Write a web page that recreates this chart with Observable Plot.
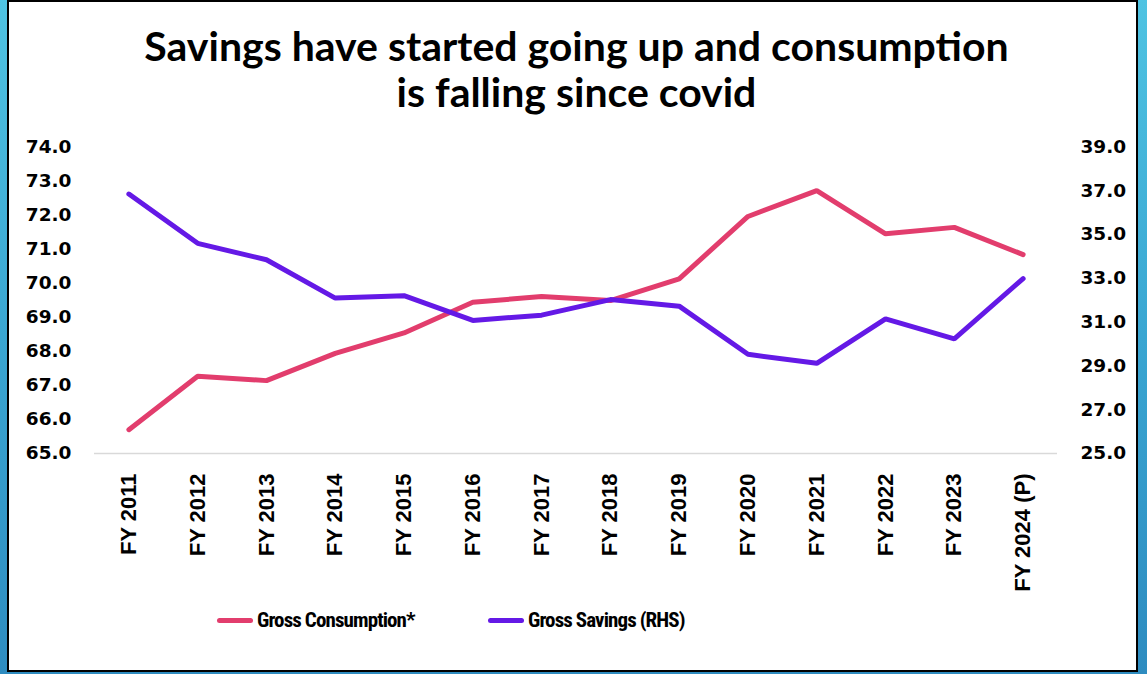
<!DOCTYPE html>
<html>
<head>
<meta charset="utf-8">
<script src="https://cdn.jsdelivr.net/npm/d3@7"></script>
<script src="https://cdn.jsdelivr.net/npm/@observablehq/plot@0.6"></script>
<style>
  html, body { margin: 0; padding: 0; }
  body {
    width: 1147px; height: 674px; overflow: hidden; position: relative;
    background: linear-gradient(180deg, #4fc3e2 0%, #3aa6d2 50%, #2e8cc0 100%);
  }
  #panel {
    position: absolute; left: 7px; top: 0px; width: 1131px; height: 672px;
    box-sizing: border-box; background: #fff; border: 2px solid #000;
  }
  #title {
    position: absolute; left: 0; top: 23px; width: 1147px; padding-left: 6px; box-sizing: border-box;
    text-align: center; font-family: Lato, "Open Sans", sans-serif; font-weight: 700;
    font-size: 41px; line-height: 46px; color: #000;
  }
  #chart { position: absolute; left: 0; top: 120px; }
  #legend {
    position: absolute; left: 0; top: 607px; width: 1147px; height: 26px;
    font-family: "Liberation Sans Narrow", "Roboto Condensed", Lato, sans-serif; font-weight: 700; font-size: 21px; letter-spacing: -0.9px; color: #000;
  }
  .item { position: absolute; top: 0; height: 26px; display: flex; align-items: center; }
  .sw { width: 36px; height: 5px; border-radius: 3px; margin-right: 4px; }
</style>
</head>
<body>
<div id="panel"></div>
<div id="title">Savings have started going up and consumption<br>is falling since covid</div>
<div id="chart"></div>
<div id="legend"></div>
<script>
const years = ["FY 2011","FY 2012","FY 2013","FY 2014","FY 2015","FY 2016","FY 2017","FY 2018","FY 2019","FY 2020","FY 2021","FY 2022","FY 2023","FY 2024 (P)"];
const consumption = [65.70, 67.27, 67.14, 67.94, 68.54, 69.44, 69.61, 69.49, 70.13, 71.96, 72.72, 71.45, 71.64, 70.84];
const savings = [36.85, 34.60, 33.85, 32.10, 32.21, 31.08, 31.32, 32.03, 31.73, 29.53, 29.12, 31.15, 30.24, 32.99];
const leftTicks = [65, 66, 67, 68, 69, 70, 71, 72, 73, 74];
const rightTicks = [25, 27, 29, 31, 33, 35, 37, 39];
const seriesNames = ["Gross Consumption*", "Gross Savings (RHS)"];
const colors = ["#e23d6d", "#6419e6"];

// map right-axis values onto left-axis domain
const L0 = 65, L1 = 74, R0 = 25, R1 = 39;
const toLeft = s => L0 + (s - R0) * (L1 - L0) / (R1 - R0);
const toRight = v => R0 + (v - L0) * (R1 - R0) / (L1 - L0);

const consData = years.map((y, i) => ({year: y, value: consumption[i]}));
const savData = years.map((y, i) => ({year: y, value: toLeft(savings[i])}));

const tickFont = {fontFamily: "DejaVu Sans, sans-serif", fontWeight: "bold", fontSize: 18.5, fill: "#000"};

const plot = Plot.plot({
  width: 1147,
  height: 480,
  marginLeft: 94,
  marginRight: 90,
  marginTop: 26.5,
  marginBottom: 147,
  style: {background: "transparent", color: "#000", overflow: "visible"},
  x: {type: "point", domain: years, padding: 0.5, round: false, label: null},
  y: {domain: [L0, L1], label: null},
  marks: [
    Plot.ruleY([L0], {stroke: "#d9d9d9", strokeWidth: 1.5}),
    Plot.axisY({anchor: "left", ticks: leftTicks, tickSize: 0, tickPadding: 23, tickFormat: d => d.toFixed(1), label: null, ...tickFont}),
    Plot.axisY({anchor: "right", ticks: rightTicks.map(toLeft), tickSize: 0, tickPadding: 23, tickFormat: d => toRight(d).toFixed(1), label: null, textAnchor: "start", ...tickFont}),
    Plot.axisX({anchor: "bottom", tickSize: 0, tickPadding: 20, tickRotate: -90, label: null,
      fontFamily: "Liberation Sans, Arial, sans-serif", fontWeight: "bold", fontSize: 22, fill: "#000"}),
    Plot.line(consData, {x: "year", y: "value", stroke: colors[0], strokeWidth: 5, strokeLinecap: "round", strokeLinejoin: "miter"}),
    Plot.line(savData, {x: "year", y: "value", stroke: colors[1], strokeWidth: 5, strokeLinecap: "round", strokeLinejoin: "miter"})
  ]
});
document.getElementById("chart").appendChild(plot);

const legend = document.getElementById("legend");
const legendLeft = [217, 488];
seriesNames.forEach((name, i) => {
  const it = document.createElement("div");
  it.className = "item";
  it.style.left = legendLeft[i] + "px";
  it.innerHTML = `<div class="sw" style="background:${colors[i]}"></div><span>${name}</span>`;
  legend.appendChild(it);
});
</script>
</body>
</html>
